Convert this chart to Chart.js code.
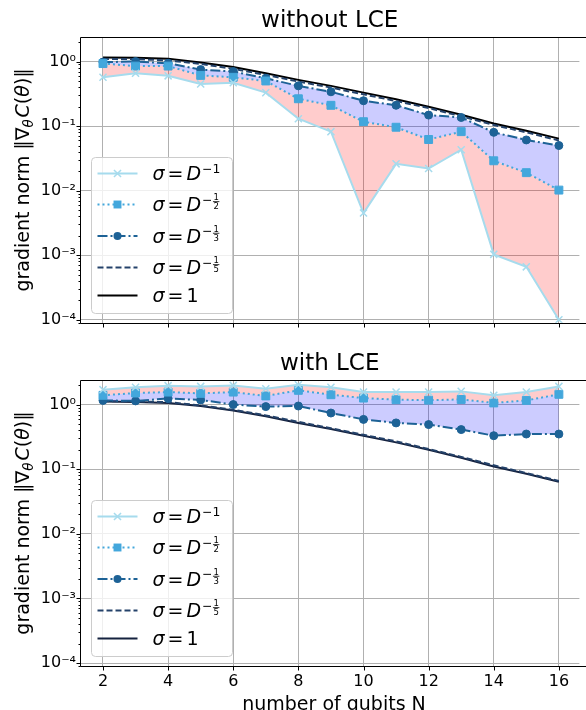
<!DOCTYPE html>
<html><head><meta charset="utf-8">
<script src="https://cdn.jsdelivr.net/npm/chart.js@4/dist/chart.umd.min.js"></script>
<style>
html,body{margin:0;padding:0;background:#fff;width:586px;height:710px;overflow:hidden}
canvas{position:absolute;left:0}
#c1{top:0}
#c2{top:345px}
</style></head><body>
<canvas id="c1" width="586" height="345"></canvas>
<canvas id="c2" width="586" height="365"></canvas>
<script>
// ---------- data ----------
const qubits = [2,3,4,5,6,7,8,9,10,11,12,13,14,15,16];
const xTickValues = [2,4,6,8,10,12,14,16];
const yTickValues = [1e-4,1e-3,1e-2,1e-1,1];
const yTickLabels = ['10⁻⁴','10⁻³','10⁻²','10⁻¹','10⁰'];
const panelTitles = ['without LCE','with LCE'];
const xAxisLabel = 'number of qubits N';
const yAxisLabel = 'gradient norm ‖∇θ C(θ)‖';
const seriesLabels = ['σ = D^−1','σ = D^−1/2','σ = D^−1/3','σ = D^−1/5','σ = 1'];
const seriesExponents = [['1'],['1','2'],['1','3'],['1','5'],null];

// without LCE
const noLceDm1  = [0.57,0.66,0.60,0.45,0.47,0.33,0.13,0.082,0.0045,0.026,0.022,0.043,0.00103,0.00066,0.0001];
const noLceDm12 = [0.93,0.85,0.85,0.61,0.57,0.50,0.265,0.21,0.117,0.096,0.062,0.082,0.029,0.019,0.0102];
const noLceDm13 = [0.98,1.00,0.94,0.75,0.70,0.55,0.42,0.34,0.247,0.21,0.148,0.136,0.080,0.061,0.050];
const noLceDm15 = [1.10,1.09,1.04,0.92,0.77,0.62,0.49,0.395,0.31,0.245,0.19,0.142,0.104,0.080,0.060];
const noLceS1   = [1.16,1.14,1.10,0.97,0.82,0.66,0.52,0.42,0.33,0.26,0.20,0.15,0.11,0.085,0.064];
// with LCE
const lceDm1  = [1.70,1.85,1.96,1.91,1.98,1.76,2.03,1.85,1.56,1.56,1.56,1.60,1.39,1.56,1.91];
const lceDm12 = [1.39,1.51,1.56,1.49,1.56,1.36,1.66,1.42,1.26,1.19,1.17,1.20,1.06,1.16,1.44];
const lceDm13 = [1.16,1.14,1.24,1.18,1.00,0.93,0.95,0.74,0.59,0.52,0.49,0.41,0.33,0.35,0.35];
const lceDm15 = [1.13,1.12,1.09,0.97,0.83,0.68,0.54,0.43,0.34,0.27,0.205,0.155,0.115,0.087,0.066];
const lceS1   = [1.12,1.10,1.06,0.95,0.81,0.66,0.52,0.42,0.33,0.26,0.20,0.15,0.11,0.085,0.064];

// ---------- styles ----------
const FONT = '"DejaVu Sans", sans-serif';
const styles = [
  {color:'#a6dbed', dash:[], point:'crossRot', r:5, pw:1.5},
  {color:'#43a7dc', dash:[2,3], point:'rect', r:5.6, pw:1},
  {color:'#1d6296', dash:[10,3,2,3], point:'circle', r:4, pw:1},
  {color:'#24426a', dash:[6,3], point:null, r:0, pw:1},
  {color:'#000000', dash:[], point:null, r:0, pw:1},
];
const fillColors = [null,'rgba(255,0,0,0.2)','rgba(0,0,255,0.2)',null,null];

function drawMath(ctx, x, y, parts, size, measureOnly) {
  let cx = x;
  ctx.save();
  ctx.textAlign = 'left';
  ctx.textBaseline = 'alphabetic';
  for (const p of parts) {
    if (p.frac) {
      const fs = size*0.45;
      ctx.font = fs + 'px ' + FONT;
      const w = Math.max(ctx.measureText(p.frac[0]).width, ctx.measureText(p.frac[1]).width) + 1;
      if (!measureOnly) {
        const barY = y - size*0.5;
        ctx.textAlign = 'center';
        ctx.fillText(p.frac[0], cx + w/2, barY - 1.3);
        ctx.fillText(p.frac[1], cx + w/2, barY + 1.3 + fs*0.73);
        ctx.fillRect(cx, barY - 0.4, w, 0.8);
        ctx.textAlign = 'left';
      }
      cx += w;
    } else {
      const fs = size*(p.sc||1);
      ctx.font = (p.it ? 'italic ' : '') + fs + 'px ' + FONT;
      if (!measureOnly) ctx.fillText(p.t, cx, y - (p.dy||0)*size);
      cx += ctx.measureText(p.t).width + (p.gap||0);
    }
  }
  ctx.restore();
  return cx - x;
}

function legendParts(i) {
  const ex = seriesExponents[i];
  const base = [{t:'σ',it:1,gap:3},{t:'=',gap:3}];
  if (!ex) return base.concat([{t:'1'}]);
  if (ex.length === 1) return base.concat([{t:'D',it:1,gap:1},{t:'−'+ex[0],sc:0.65,dy:0.4}]);
  return base.concat([{t:'D',it:1,gap:1},{t:'−',sc:0.65,dy:0.4,gap:0.5},{frac:ex}]);
}

function drawMarker(ctx, style, col, x, y) {
  if (!style.point) return;
  ctx.save();
  ctx.setLineDash([]);
  ctx.strokeStyle = col; ctx.fillStyle = col; ctx.lineWidth = style.pw;
  const r = style.r;
  if (style.point === 'crossRot') {
    const o = r*Math.SQRT1_2;
    ctx.beginPath(); ctx.moveTo(x-o,y-o); ctx.lineTo(x+o,y+o); ctx.moveTo(x-o,y+o); ctx.lineTo(x+o,y-o); ctx.stroke();
  } else if (style.point === 'rect') {
    const o = r*Math.SQRT1_2;
    ctx.fillRect(x-o,y-o,2*o,2*o);
  } else {
    ctx.beginPath(); ctx.arc(x,y,r,0,Math.PI*2); ctx.fill();
  }
  ctx.restore();
}

const decor = {
  id: 'decor',
  afterDraw(chart) {
    const o = chart.options.plugins.decor;
    const {ctx, chartArea:a, scales:{x, y}} = chart;
    ctx.save();
    // spines (right spine lies beyond the canvas)
    ctx.strokeStyle = '#000'; ctx.lineWidth = 1; ctx.setLineDash([]);
    const L = Math.round(a.left)+0.5, T = Math.round(a.top)+0.5, B = Math.round(a.bottom)+0.5;
    ctx.beginPath();
    ctx.moveTo(586, T); ctx.lineTo(L, T); ctx.lineTo(L, B); ctx.lineTo(586, B);
    ctx.stroke();
    // y ticks (major + minor)
    for (let e = -5; e <= 0; e++) {
      for (let k = 1; k <= 9; k++) {
        const v = k*Math.pow(10, e);
        if (v < y.min || v > y.max) continue;
        const py = Math.round(y.getPixelForValue(v)) + 0.5;
        const len = k === 1 ? 4 : 2;
        ctx.beginPath(); ctx.moveTo(L - len, py); ctx.lineTo(L, py); ctx.stroke();
      }
    }
    // x ticks
    xTickValues.forEach(v => {
      const px = Math.round(x.getPixelForValue(v)) + 0.5;
      ctx.beginPath(); ctx.moveTo(px, B); ctx.lineTo(px, B + 4); ctx.stroke();
    });
    // y axis label (rotated, with subscript)
    ctx.fillStyle = '#000';
    const yParts = [{t:'gradient norm '},{t:'‖'},{t:'∇'},{t:'θ',it:1,sc:0.7,dy:-0.2,gap:2},{t:'C',it:1},{t:'('},{t:'θ',it:1},{t:')'},{t:'‖'}];
    const w = drawMath(ctx, 0, 0, yParts, 19, true);
    ctx.save();
    ctx.translate(29, (a.top + a.bottom)/2);
    ctx.rotate(-Math.PI/2);
    drawMath(ctx, -w/2, 0, yParts, 19, false);
    ctx.restore();
    // x axis label
    if (o.xLabel) {
      ctx.font = '19px ' + FONT; ctx.textAlign = 'center'; ctx.textBaseline = 'alphabetic';
      ctx.fillText(xAxisLabel, (a.left + 588)/2, 364.5);
    }
    // legend
    const bx = a.left + 11.5, by = Math.round(a.bottom - 166) + 0.5, bw = 141, bh = 156;
    ctx.beginPath();
    ctx.roundRect(bx, by, bw, bh, 4);
    ctx.fillStyle = 'rgba(255,255,255,0.8)'; ctx.fill();
    ctx.strokeStyle = '#cccccc'; ctx.lineWidth = 1; ctx.stroke();
    const rows = [16,47,78.5,110,138];
    rows.forEach((dy, i) => {
      const st = styles[i];
      const col = i === 4 ? o.s1Color : st.color;
      const yy = by + dy;
      ctx.save();
      ctx.strokeStyle = col; ctx.lineWidth = 2; ctx.setLineDash(st.dash);
      ctx.beginPath(); ctx.moveTo(bx + 6, yy); ctx.lineTo(bx + 46, yy); ctx.stroke();
      ctx.restore();
      drawMarker(ctx, st, col, bx + 26, yy);
      ctx.fillStyle = '#000';
      drawMath(ctx, bx + 61, yy + 6.7, legendParts(i), 19, false);
    });
    ctx.restore();
  }
};

function makeChart(id, title, series, opt) {
  const datasets = series.map((vals, i) => {
    const st = styles[i];
    const col = i === 4 ? opt.s1Color : st.color;
    return {
      label: seriesLabels[i],
      data: qubits.map((n, k) => ({x:n, y:vals[k]})),
      borderColor: col, borderWidth: 2, borderDash: st.dash,
      backgroundColor: fillColors[i] || 'transparent',
      fill: fillColors[i] ? '-1' : false,
      pointStyle: st.point || 'circle', pointRadius: st.r, pointHoverRadius: st.r,
      pointBorderColor: col, pointBackgroundColor: col, pointBorderWidth: st.pw,
      tension: 0
    };
  });
  const gridColor = '#b0b0b0';
  return new Chart(document.getElementById(id), {
    type: 'line',
    data: { datasets },
    plugins: [decor],
    options: {
      responsive: false, animation: false, events: [],
      layout: { padding: {left:0, right:0, top:0, bottom:0} },
      plugins: {
        legend: {display:false}, tooltip: {enabled:false},
        title: {display:true, fullSize:false, text:title, color:'#000', font:{family:FONT, size:23, weight:'normal'}, padding:{top:opt.titleTop, bottom:2.4}},
        decor: {s1Color: opt.s1Color, xLabel: opt.xLabel}
      },
      scales: {
        x: {
          type:'linear', min:1.294, max:16.63,
          afterBuildTicks: s => { s.ticks = xTickValues.map(v => ({value:v})); },
          afterFit: s => { s.height = opt.xAxisH; },
          grid: {color:gridColor, lineWidth:1, drawTicks:false},
          border: {display:false},
          ticks: {display: opt.xLabel, color:'#000', font:{family:FONT, size:16}, padding:6, maxRotation:0, autoSkip:false}
        },
        y: {
          type:'logarithmic', min:9e-5, max:2.4,
          afterBuildTicks: s => { s.ticks = yTickValues.map(v => ({value:v})); },
          afterFit: s => { s.width = 80; },
          grid: {color:gridColor, lineWidth:1, drawTicks:false},
          border: {display:false},
          ticks: {callback: (v, i) => yTickLabels[i], color:'#000', font:{family:FONT, size:16}, padding:4, autoSkip:false}
        }
      }
    }
  });
}

makeChart('c1', panelTitles[0], [noLceDm1, noLceDm12, noLceDm13, noLceDm15, noLceS1],
  {s1Color:'#000000', xLabel:false, xAxisH:22.3, titleTop:7});
makeChart('c2', panelTitles[1], [lceDm1, lceDm12, lceDm13, lceDm15, lceS1],
  {s1Color:'#15223f', xLabel:true, xAxisH:44, titleTop:5});
</script>
</body></html>
